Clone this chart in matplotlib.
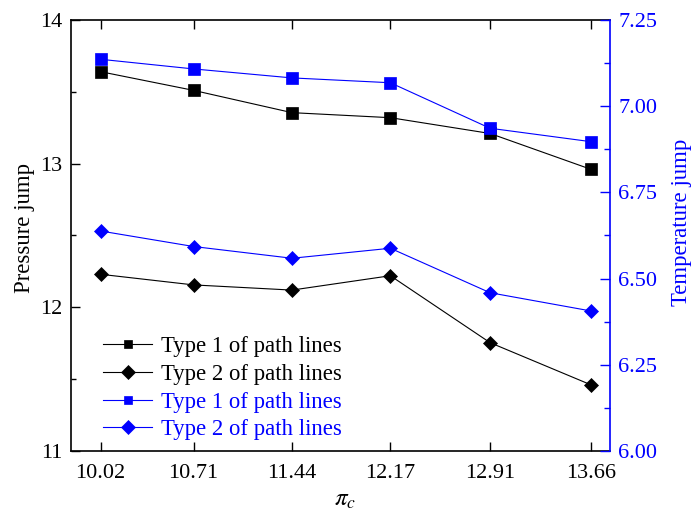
import matplotlib
matplotlib.use('Agg')
import matplotlib.pyplot as plt
from matplotlib.ticker import MultipleLocator, FixedLocator

plt.rcParams['font.family'] = ['Liberation Serif', 'DejaVu Serif']
plt.rcParams['mathtext.fontset'] = 'stix'

# compressor pressure ratio
pi_c = [10.02, 10.71, 11.44, 12.17, 12.91, 13.66]
x_labels = ['10.02', '10.71', '11.44', '12.17', '12.91', '13.66']

# pressure jump (left axis)
p_type1 = [13.64, 13.51, 13.355, 13.32, 13.21, 12.96]
p_type2 = [12.23, 12.156, 12.12, 12.22, 11.754, 11.46]

# temperature jump (right axis)
t_type1 = [7.136, 7.108, 7.082, 7.068, 6.936, 6.897]
t_type2 = [6.638, 6.593, 6.559, 6.588, 6.459, 6.406]

blue = '#0000ff'
fs_tick = 16
fs_lab = 16.4

fig = plt.figure(figsize=(6.94, 5.11), dpi=100)
ax = fig.add_axes([0.1023, 0.1174, 0.7767, 0.8435])
ax2 = ax.twinx()

l1, = ax.plot(pi_c, p_type1, color='black', lw=0.8, marker='s', ms=8.5,
              mew=0.5, label='Type 1 of path lines')
l2, = ax.plot(pi_c, p_type2, color='black', lw=0.8, marker='D', ms=7.5,
              mew=0.5, label='Type 2 of path lines')
l3, = ax2.plot(pi_c, t_type1, color=blue, lw=0.8, marker='s', ms=8.5,
               mew=0.5, label='Type 1 of path lines')
l4, = ax2.plot(pi_c, t_type2, color=blue, lw=0.8, marker='D', ms=7.5,
               mew=0.5, label='Type 2 of path lines')

ax.set_xlim(9.8, 13.8)
ax.set_ylim(11, 14)
ax2.set_ylim(6.0, 7.25)

ax.xaxis.set_major_locator(FixedLocator(pi_c))
ax.set_xticklabels(x_labels)
ax.yaxis.set_major_locator(MultipleLocator(1))
ax.yaxis.set_minor_locator(MultipleLocator(0.5))
ax2.yaxis.set_major_locator(MultipleLocator(0.25))
ax2.yaxis.set_minor_locator(MultipleLocator(0.125))
ax2.set_yticklabels([f'{v:.2f}' for v in ax2.get_yticks()])

ax.tick_params(axis='x', which='both', direction='in', top=True, bottom=True,
               length=6.5, width=1.0, labelsize=fs_tick, pad=9)
ax.tick_params(axis='y', which='major', direction='in', length=6.5, width=1.0,
               labelsize=fs_tick, pad=6)
ax.tick_params(axis='y', which='minor', direction='in', length=3.6, width=1.0)
ax2.tick_params(axis='y', which='major', direction='in', length=7, width=1.0,
                labelsize=fs_tick, colors=blue, pad=6)
ax2.tick_params(axis='y', which='minor', direction='in', length=4.5, width=1.0,
                colors=blue)

for side in ['left', 'top', 'bottom']:
    ax.spines[side].set_linewidth(1.2)
ax2.spines['right'].set_color(blue)
ax2.spines['right'].set_linewidth(1.2)
ax2.spines['left'].set_visible(False)
ax2.spines['top'].set_visible(False)
ax2.spines['bottom'].set_visible(False)
ax.spines['right'].set_visible(False)

ax.set_ylabel('Pressure jump', fontsize=fs_lab)
ax.yaxis.set_label_coords(-0.067, 0.517)
ax2.set_ylabel('Temperature jump', fontsize=fs_lab, color=blue)
ax2.yaxis.set_label_coords(1.114, 0.53)
ax.set_xlabel(r'$\pi_c$', fontsize=18)
ax.xaxis.set_label_coords(0.508, -0.088)

leg = ax2.legend(handles=[l1, l2, l3, l4], loc='lower left',
                 bbox_to_anchor=(0.059, 0.025), frameon=False, fontsize=fs_lab,
                 handlelength=2.17, handletextpad=0.39, labelspacing=0.29,
                 borderaxespad=0, borderpad=0)
for txt, c in zip(leg.get_texts(), ['black', 'black', blue, blue]):
    txt.set_color(c)
# squares in the key are drawn a bit smaller than on the curves
for h in (leg.legend_handles[0], leg.legend_handles[2]):
    h.set_markersize(6)

fig.savefig('out.png', dpi=100)
